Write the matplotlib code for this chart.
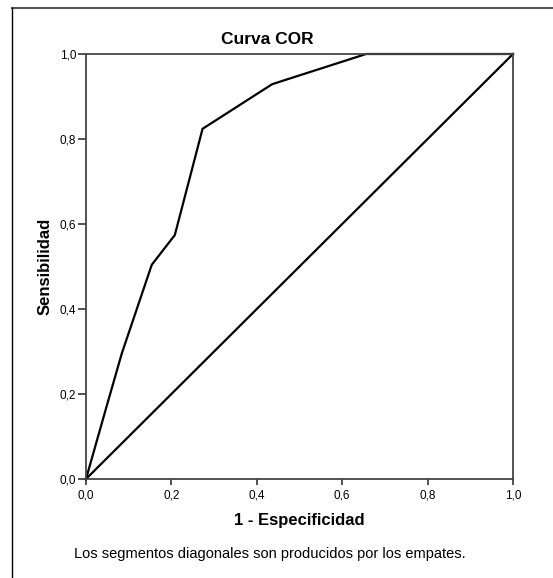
import numpy as np
import matplotlib.pyplot as plt
from matplotlib.lines import Line2D

plt.rcParams['font.family'] = ['Liberation Sans', 'DejaVu Sans']

# Puntos de la curva COR (1 - Especificidad, Sensibilidad)
fpr = [0.0, 0.048, 0.084, 0.154, 0.208, 0.273, 0.436, 0.656, 1.0]
tpr = [0.0, 0.170, 0.296, 0.504, 0.574, 0.824, 0.929, 1.0, 1.0]
ref_x = [0.0, 1.0]
ref_y = [0.0, 1.0]
ticks = [0.0, 0.2, 0.4, 0.6, 0.8, 1.0]
tick_labels = ["0,0", "0,2", "0,4", "0,6", "0,8", "1,0"]

fig = plt.figure(figsize=(5.53, 5.78), dpi=100)
W, H = 553, 578
ax = fig.add_axes([86/W, 1-479/H, 427/W, 425/H])

ax.plot(fpr, tpr, color='black', lw=1.6, solid_joinstyle='miter', clip_on=False)
ax.plot(ref_x, ref_y, color='black', lw=1.6, clip_on=False)

ax.set_xlim(0, 1)
ax.set_ylim(0, 1)
ax.set_xticks(ticks)
ax.set_xticklabels(tick_labels)
ax.set_yticks(ticks)
ax.set_yticklabels(tick_labels)
ax.tick_params(direction='out', width=1.2, labelsize=8.5, color='#333333')
ax.tick_params(axis='x', length=4.5, pad=3)
ax.tick_params(axis='y', length=6, pad=1)
for s in ax.spines.values():
    s.set_color('#444444')
    s.set_linewidth(1.3)

fig.text(267/W, 1-39/H, "Curva COR", ha='center', va='center', fontsize=12.5, fontweight='bold')
ax.set_xlabel("1 - Especificidad", fontsize=12, fontweight='bold', labelpad=8)
ax.set_ylabel("Sensibilidad", fontsize=12, fontweight='bold', labelpad=5.5)

fig.text(270/W, 1-554/H, "Los segmentos diagonales son producidos por los empates.",
         ha='center', va='center', fontsize=10.5)

# marco exterior
fig.add_artist(Line2D([12/W, 1], [1-8/H, 1-8/H], color='#555555', lw=1.5, transform=fig.transFigure))
fig.add_artist(Line2D([12/W, 12/W], [0, 1-8/H], color='black', lw=1, transform=fig.transFigure))

plt.savefig("out.png", dpi=100)
